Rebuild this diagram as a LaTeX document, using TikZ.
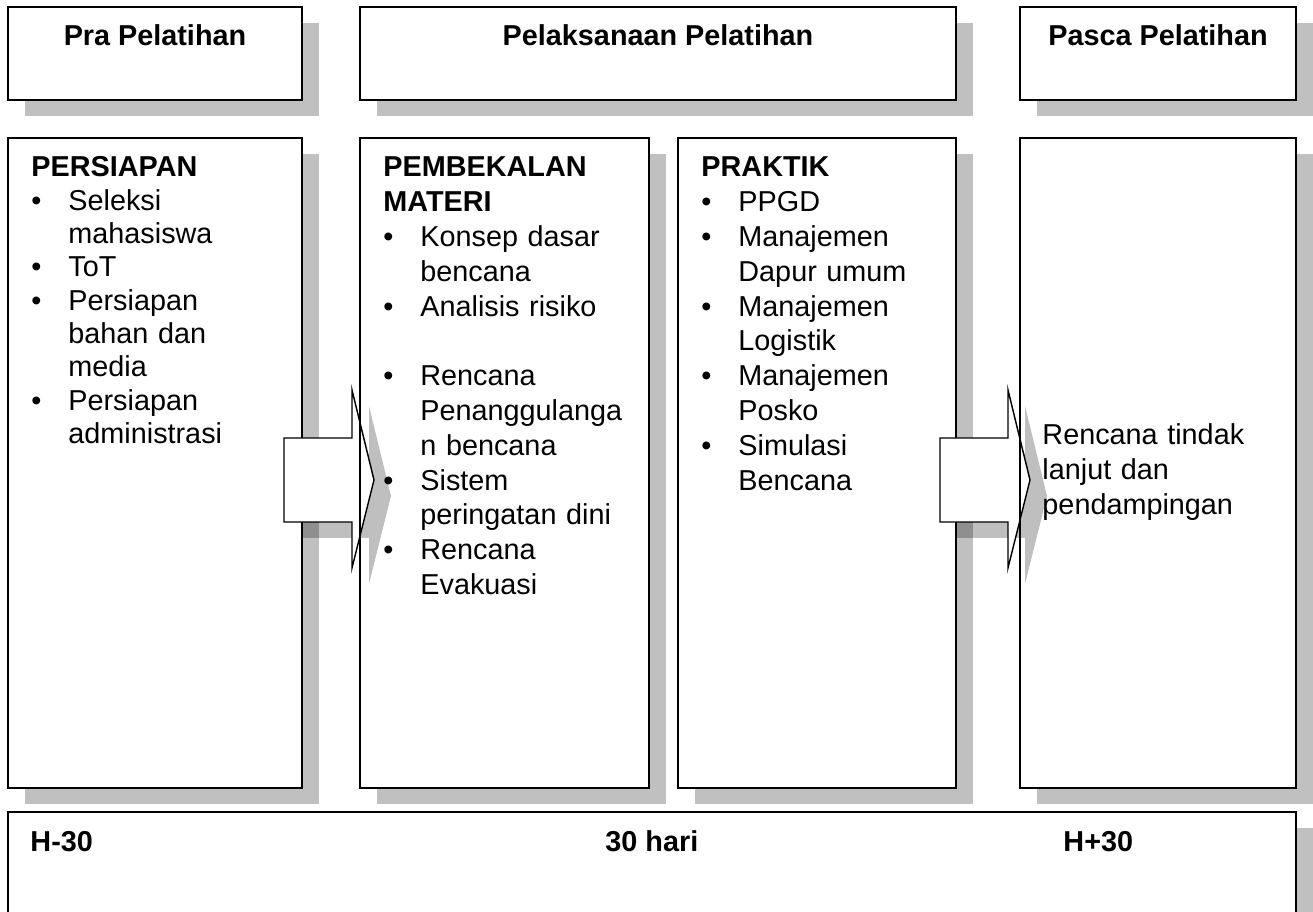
\documentclass[tikz,border=0pt]{standalone}
\usepackage{fontspec}
\setmainfont{Liberation Sans}
\usetikzlibrary{positioning}
\definecolor{shadowgray}{RGB}{192,192,192}
\setlength{\parindent}{0pt}
\newcommand{\butir}{\par\hangindent=15.4pt\hangafter=1\noindent\makebox[15.4pt][l]{\textbullet}}
\tikzset{
    frame/.style={draw=black, line width=0.8pt},
    framefill/.style={frame, fill=white},
    boxshadow/.style={fill=shadowgray},
    arrowshadow/.style={fill=black, fill opacity=0.25},
    blockarrow/.style={draw=black, line width=0.6pt, fill=white, line join=miter},
    header/.style={font=\fontsize{12pt}{13.875pt}\selectfont\bfseries, anchor=base, inner sep=0pt},
    content/.style={font=\fontsize{12pt}{13.875pt}\selectfont, anchor=base west, inner sep=0pt, text width=118pt, align=left},
    widecontent/.style={content, font=\fontsize{12pt}{14.5pt}\selectfont},
    timeline/.style={font=\fontsize{12pt}{13.875pt}\selectfont\bfseries, anchor=base west, inner sep=0pt}
}

\begin{document}
\begin{tikzpicture}[x=0.41667pt, y=-0.41667pt]
    \clip (0,0) rectangle (1313,912);
    % shadows and frames
    \foreach \xa/\ya/\xb/\yb in {8/7/302/100, 360/7/956/100, 1020/7/1296/100,
        8/138/302/788, 360/138/649/788, 678/138/956/788, 1020/138/1296/788, 8/812/1296/960}
        \fill[boxshadow] (\xa+17,\ya+16) rectangle (\xb+17,\yb+16);
    \foreach \xa/\ya/\xb/\yb in {8/7/302/100, 360/7/956/100, 1020/7/1296/100,
        8/138/302/788, 360/138/649/788, 678/138/956/788, 1020/138/1296/788, 8/812/1296/960}
        \draw[framefill] (\xa,\ya) rectangle (\xb,\yb);

    % block arrows
    \foreach \ax in {284,940}{
        \fill[arrowshadow, shift={(17,16)}] (\ax,438) -- (\ax+68,438) -- (\ax+68,390) -- (\ax+90,480)
            -- (\ax+68,568) -- (\ax+68,522) -- (\ax,522) -- cycle;
        \draw[blockarrow] (\ax,438) -- (\ax+68,438) -- (\ax+68,390) -- (\ax+90,480)
            -- (\ax+68,568) -- (\ax+68,522) -- (\ax,522) -- cycle;
    }
    \draw[frame] (360,138) rectangle (649,788);
    \draw[frame] (1020,138) rectangle (1296,788);

    % headers
    \node[header] (pra) at (155,46) {Pra Pelatihan};
    \node[header] (pelaksanaan) at (658,46) {Pelaksanaan Pelatihan};
    \node[header] (pasca) at (1158,46) {Pasca Pelatihan};

    % columns
    \node[content] (persiapan) at (31,177) {\textbf{PERSIAPAN}
        \butir Seleksi\newline mahasiswa
        \butir ToT
        \butir Persiapan\newline bahan dan\newline media
        \butir Persiapan\newline administrasi\par};
    \node[widecontent] (pembekalan) at (383,177) {\textbf{PEMBEKALAN}\newline \textbf{MATERI}
        \butir Konsep dasar\newline bencana
        \butir Analisis risiko
        \par\mbox{}
        \butir Rencana\newline Penanggulanga\newline n bencana
        \butir Sistem\newline peringatan dini
        \butir Rencana\newline Evakuasi\par};
    \node[widecontent] (praktik) at (701,177) {\textbf{PRAKTIK}
        \butir PPGD
        \butir Manajemen\newline Dapur umum
        \butir Manajemen\newline Logistik
        \butir Manajemen\newline Posko
        \butir Simulasi\newline Bencana\par};
    \node[widecontent] (rtl) at (1042,445) {Rencana tindak\newline lanjut dan\newline pendampingan\par};

    % time line
    \node[timeline] (hmin) at (30,852) {H-30};
    \node[timeline] (hari) at (605,852) {30 hari};
    \node[timeline] (hplus) at (1063,852) {H+30};
\end{tikzpicture}
\end{document}
